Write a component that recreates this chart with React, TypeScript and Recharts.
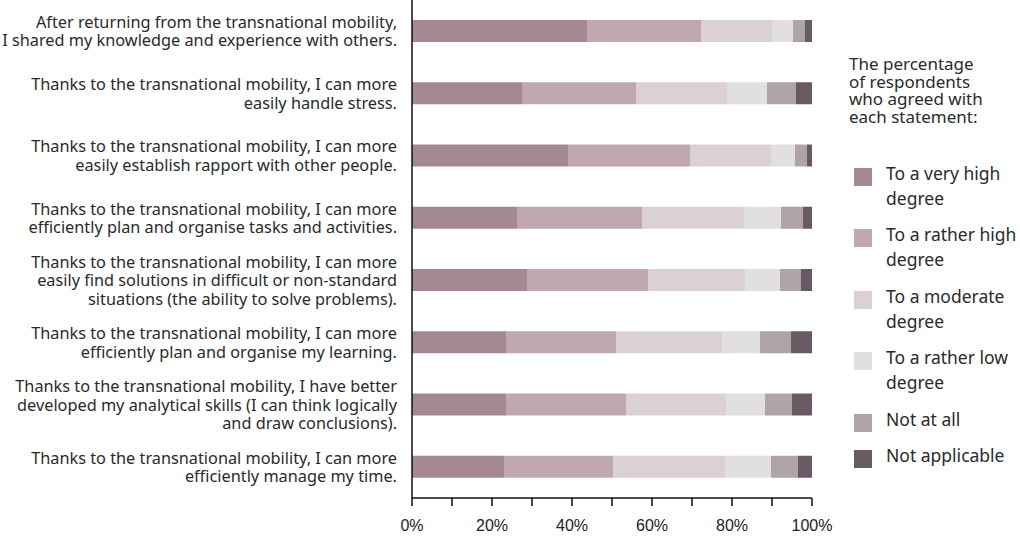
import { BarChart, Bar, XAxis, YAxis, Legend } from "recharts";

const statements: string[][] = [
  ["After returning from the transnational mobility,", "I shared my knowledge and experience with others."],
  ["Thanks to the transnational mobility, I can more", "easily handle stress."],
  ["Thanks to the transnational mobility, I can more", "easily establish rapport with other people."],
  ["Thanks to the transnational mobility, I can more", "efficiently plan and organise tasks and activities."],
  [
    "Thanks to the transnational mobility, I can more",
    "easily find solutions in difficult or non-standard",
    "situations (the ability to solve problems).",
  ],
  ["Thanks to the transnational mobility, I can more", "efficiently plan and organise my learning."],
  [
    "Thanks to the transnational mobility, I have better",
    "developed my analytical skills (I can think logically",
    "and draw conclusions).",
  ],
  ["Thanks to the transnational mobility, I can more", "efficiently manage my time."],
];

const veryHigh = [43.75, 27.5, 39, 26.25, 28.75, 23.5, 23.5, 23];
const ratherHigh = [28.5, 28.5, 30.5, 31.25, 30.25, 27.5, 30, 27.25];
const moderate = [17.75, 22.75, 20.25, 25.5, 24.25, 26.5, 25, 28];
const ratherLow = [5.25, 10, 6, 9.25, 8.75, 9.5, 9.75, 11.5];
const notAtAll = [3, 7.25, 3, 5.5, 5.25, 7.75, 6.75, 6.75];
const notApplicable = [1.75, 4, 1.25, 2.25, 2.75, 5.25, 5, 3.5];

const xTicks = [0, 10, 20, 30, 40, 50, 60, 70, 80, 90, 100];

const legendTitle = ["The percentage", "of respondents", "who agreed with", "each statement:"];

const series = [
  { key: "veryHigh", name: "To a very high degree", color: "#a58892" },
  { key: "ratherHigh", name: "To a rather high degree", color: "#bfa9af" },
  { key: "moderate", name: "To a moderate degree", color: "#dbd0d4" },
  { key: "ratherLow", name: "To a rather low degree", color: "#e2dfe0" },
  { key: "notAtAll", name: "Not at all", color: "#afa5a9" },
  { key: "notApplicable", name: "Not applicable", color: "#675a62" },
];

const data = statements.map((lines, i) => ({
  name: lines.join(" "),
  veryHigh: veryHigh[i],
  ratherHigh: ratherHigh[i],
  moderate: moderate[i],
  ratherLow: ratherLow[i],
  notAtAll: notAtAll[i],
  notApplicable: notApplicable[i],
}));

const LABEL_FONT = '"Noto Sans", sans-serif';

const StatementTick = (props: any) => {
  const { x, y, index } = props;
  const lines = statements[index] || [];
  const lh = 18.5;
  const startY = y - ((lines.length - 1) * lh) / 2;
  return (
    <text
      x={x}
      y={startY}
      textAnchor="end"
      fill="#2a2a2a"
      fontSize={16.3}
      fontFamily={LABEL_FONT}
      dominantBaseline="central"
    >
      {lines.map((line, i) => (
        <tspan key={i} x={x} y={startY + i * lh}>
          {line}
        </tspan>
      ))}
    </text>
  );
};

// split "... degree" onto its own line like the original legend
const legendLines = (name: string) =>
  name.endsWith(" degree") ? [name.slice(0, -7), "degree"] : [name];

const LegendBox = () => (
  <div style={{ fontFamily: LABEL_FONT, color: "#2a2a2a", textAlign: "left" }}>
    <div style={{ fontSize: 17, lineHeight: "17.7px", marginBottom: 35 }}>
      {legendTitle.map((t) => (
        <div key={t} style={{ whiteSpace: "nowrap" }}>
          {t}
        </div>
      ))}
    </div>
    {series.map((s) => (
      <div key={s.key} style={{ display: "flex", alignItems: "flex-start", marginBottom: 11.5 }}>
        <div
          style={{
            width: 18,
            height: 18,
            marginLeft: 5,
            marginTop: 7,
            marginRight: 14,
            backgroundColor: s.color,
            flexShrink: 0,
          }}
        />
        <div style={{ fontSize: 17.5, lineHeight: "25px" }}>
          {legendLines(s.name).map((l) => (
            <div key={l} style={{ whiteSpace: "nowrap" }}>
              {l}
            </div>
          ))}
        </div>
      </div>
    ))}
  </div>
);

export default function App() {
  return (
    <div style={{ position: "absolute", left: 0, top: 0, background: "#fff" }}>
      <BarChart
        width={1020}
        height={537}
        data={data}
        layout="vertical"
        margin={{ top: 0, right: 208, bottom: 0, left: 0 }}
        barSize={22}
      >
        <XAxis
          type="number"
          domain={[0, 100]}
          ticks={xTicks}
          interval={0}
          height={39}
          tickFormatter={(v: number) => (v % 20 === 0 ? `${v}%` : "")}
          tickSize={8}
          tickMargin={14}
          axisLine={{ stroke: "#111", strokeWidth: 1.5 }}
          tickLine={{ stroke: "#111", strokeWidth: 1.5 }}
          tick={{ fill: "#222", fontSize: 16, fontFamily: '"Liberation Sans", Arial, sans-serif' }}
        />
        <YAxis
          type="category"
          dataKey="name"
          width={412}
          interval={0}
          tickLine={false}
          tickSize={6}
          tickMargin={9}
          axisLine={{ stroke: "#111", strokeWidth: 1.5 }}
          tick={<StatementTick />}
        />
        <Legend
          layout="vertical"
          align="center"
          verticalAlign="middle"
          content={<LegendBox />}
          wrapperStyle={{ left: 849, top: 55, width: 171 }}
        />
        {series.map((s) => (
          <Bar
            key={s.key}
            dataKey={s.key}
            name={s.name}
            stackId="a"
            fill={s.color}
            isAnimationActive={false}
          />
        ))}
      </BarChart>
    </div>
  );
}
